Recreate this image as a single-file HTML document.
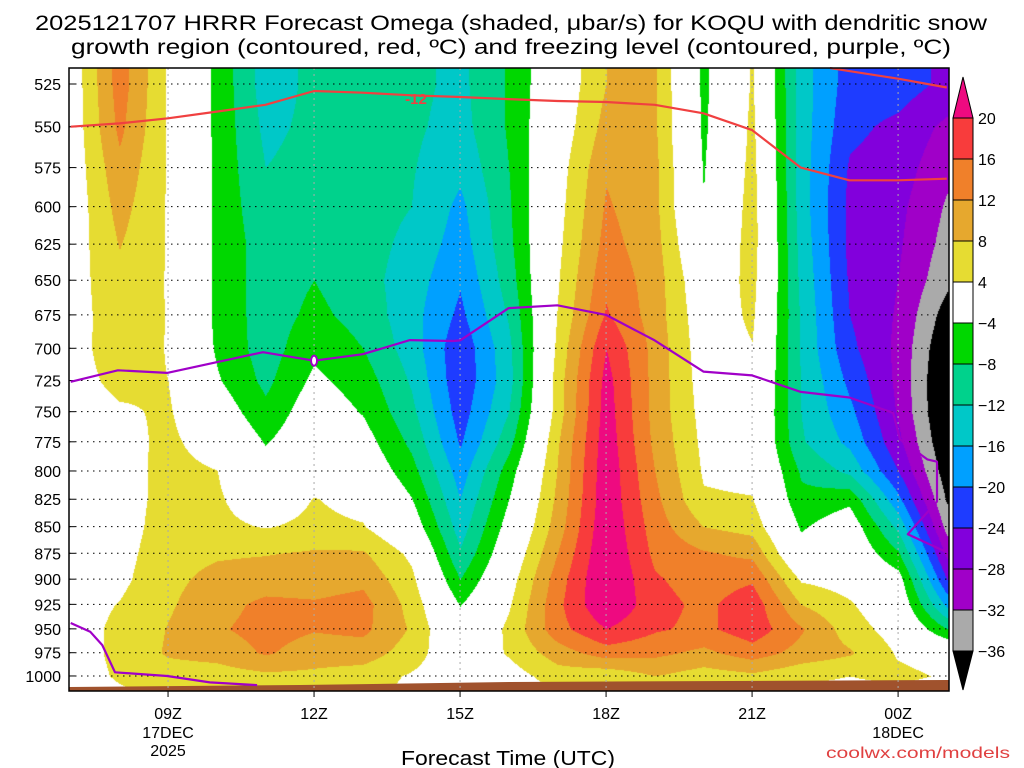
<!DOCTYPE html>
<html><head><meta charset="utf-8"><style>
html,body{margin:0;padding:0;background:#fff;}
#wrap{position:relative;width:1024px;height:768px;overflow:hidden;font-family:"Liberation Sans",sans-serif;}
canvas,svg{position:absolute;left:0;top:0;}
</style></head><body>
<div id="wrap">
<canvas id="field" width="1024" height="768"></canvas>
<svg id="ov" width="1024" height="768"></svg>
</div>
<script>
// ---- data ----
const levels = [525,550,575,600,625,650,675,700,725,750,775,800,825,850,875,900,925,950,975,1000,1025];
const hourLabels = ["07Z","08Z","09Z","10Z","11Z","12Z","13Z","14Z","15Z","16Z","17Z","18Z","19Z","20Z","21Z","22Z","23Z","00Z","01Z"];
const omega07 = [1,1,1,1,1.5,2,2,2.5,2.5,2,2,2,2,2,2,2,2,2,2,2,1];
const omega08 = [14,13,11,9.5,8.2,7,6.5,6,5,3.5,2.5,2,2,2,2.5,3,4.2,5,5,4.5,3];
const omega09 = [3.5,3.5,3.6,3.6,3.7,3.7,3.8,3.8,4,4.5,5,5.5,5.5,6,6.5,7,7.5,8.2,8.5,6,4.5];
const omega10 = [-5,-5,-5,-5,-5,-5,-5,-4.6,-3.5,-1,1.5,4.1,4.6,5,7.5,9.2,10.5,11.5,9.5,6,4.5];
const omega11 = [-14,-13,-12,-11,-10,-10,-10,-10,-9,-7,-4.3,-2,1,3.8,7.8,10,13,13.5,12.5,7,4.5];
const omega12 = [-11,-11,-10.5,-10,-9,-8,-7,-5,-3,-1,0,1.5,4.2,5,8.5,10,12.5,12.3,10,7,4.5];
const omega13 = [-10.5,-10.5,-10.5,-10.5,-10.5,-10.5,-9.5,-8,-6,-4.3,-2,0,2.5,4.3,8.5,11,13.5,13,10,6,4.2];
const omega14 = [-11,-11.3,-11.7,-12,-13,-14,-14.5,-14,-12.5,-11,-9,-6.5,-3.8,-1,3,5,6.5,7.5,6,3.5,3];
const omega15 = [-13,-13.5,-15,-17,-18,-19.5,-21,-23,-23,-22,-20.5,-18,-16,-14,-11.5,-8,-4.2,-2,0,1,1];
const omega16 = [-7.5,-7.5,-8,-8.5,-9,-10,-11.5,-13,-13.5,-12,-9.5,-6,-4,-2,0,2,3.5,5,4.5,2,0.5];
const omega17 = [0.5,1,2,2.5,3,3.6,4.2,5,6,6,7.5,8.2,9,10,12,14,15,14.5,10,6,3];
const omega18 = [8,9.5,11.5,12.5,13.5,15,16.5,20,21.5,22,22.5,23,23,23.5,24,24.5,24,20,14,5,2.5];
const omega19 = [8.5,8.5,9,9,9.5,10,10,10.5,10.5,10.5,11,12,13,14,15,16.5,17.5,16.5,13,8,2.5];
const omega20 = [-5,-4.8,-4.3,-3.8,-2,0,1,1.5,2,2.5,3,3.5,4.5,8,12.5,14,15,15,11,6,2.5];
const omega21 = [4.5,5,5.5,6,6,5.5,4.8,3.8,3,2.5,2.5,2.8,4.2,6.5,11,15.5,18.5,18.5,14,7,2.5];
const omega22 = [-14,-14,-14,-14,-13.5,-13,-12.5,-12.5,-12,-12,-11.5,-8.5,-7,-4.5,-2,3.5,8,12.5,10.5,5,2];
const omega23 = [-22,-23,-24.5,-25,-25,-24.5,-24,-23,-21,-19,-17,-13,-5,-1,0.5,2,4.5,6,8.5,4,2];
const omega00 = [-22,-25,-26,-27,-27.5,-28,-28.5,-29,-29,-28.5,-27,-24,-19,-13,-7.5,-2,0,2,3.5,5,2];
const omega01 = [-25,-29,-31,-32.5,-33.5,-35,-38,-40,-41,-41,-40,-38.5,-36.5,-33.5,-29,-24,-17,-8,2,3.5,1];
const omegaColumns = [omega07,omega08,omega09,omega10,omega11,omega12,omega13,omega14,omega15,omega16,omega17,omega18,omega19,omega20,omega21,omega22,omega23,omega00,omega01];

const cbLevels = [20,16,12,8,4,-4,-8,-12,-16,-20,-24,-28,-32,-36];
const cbColors = ["#ee0a80","#f83c3c","#f0802a","#e6a82e","#e6dc32","#ffffff","#00d700","#00d28c","#00c8c8","#00a0ff","#1e3cff","#8200dc","#a000c8","#aaaaaa","#000000"];

// dendritic (-12C) line: hour offset, pressure
const dgzHours = [0,1,2,3,4,5,6,7,8,9,10,11,12,13,14,15,16,17,18];
const dgzPres  = [550,548,545,541,537,529,530,531.5,532.5,533.7,534.8,535.4,537,542,552,575,583,583,582];
const dgz2Hours = [15.6,17,18];
const dgz2Pres = [516,522,527];
// freezing level (0C)
const frzHours = [0,0.97,1.98,3.95,5,6,6.97,7.86,8,9,10,11,12,13,14,15,16,16.9,17.04,17.6,17.8,17.8,17.2,18];
const frzPres  = [726,717,719,703,709.5,704.5,693.8,694.5,694,670,668,675,694,718,721,734,738.5,751,773,790,792,827,857,874];
const frz2Hours = [0,0.4,0.65,0.91,1.98,2.86,3.83];
const frz2Pres  = [944,953,967,996,1000,1007,1010];
const yTickLabels = ["525","550","575","600","625","650","675","700","725","750","775","800","825","850","875","900","925","950","975","1000"];
const xTickHours = [2,5,8,11,14,17];
const xTickLabels = ["09Z","12Z","15Z","18Z","21Z","00Z"];
const xDateLabels = ["17DEC","","","","","18DEC"];

// ---- axes ----
const L=69,R=949,T=68,B=691;
function xOf(h){return 70.7+h*48.67;}
function yOf(p){return 84+918.7*(Math.log(p)-Math.log(525));}
function colorOf(v){
  if(v>=20)return cbColors[0];
  for(let i=1;i<cbLevels.length;i++){ if(v>=cbLevels[i]) return cbColors[i]; }
  return cbColors[cbColors.length-1];
}
function hexRGB(h){return [parseInt(h.substr(1,2),16),parseInt(h.substr(3,2),16),parseInt(h.substr(5,2),16)];}

// ---- field ----
const cv=document.getElementById('field');const ctx=cv.getContext('2d');
const img=ctx.createImageData(R-L,B-T);
const rowY=levels.map(yOf);
const rgbCache={};
for(let py=T;py<B;py++){
  let r0=0,fr=0;
  if(py<=rowY[0]){r0=0;fr=0;}else if(py>=rowY[rowY.length-1]){r0=rowY.length-2;fr=1;}
  else{for(let i=0;i<rowY.length-1;i++){if(py>=rowY[i]&&py<rowY[i+1]){r0=i;fr=(py-rowY[i])/(rowY[i+1]-rowY[i]);break;}}}
  for(let px=L;px<R;px++){
    let t=(px-70.7)/48.67; if(t<0)t=0; if(t>18)t=18;
    let c0=Math.min(Math.floor(t),17); let fc=t-c0;
    const a=omegaColumns[c0],b=omegaColumns[c0+1];
    const v=(a[r0]*(1-fr)+a[r0+1]*fr)*(1-fc)+(b[r0]*(1-fr)+b[r0+1]*fr)*fc;
    const col=colorOf(v); const rgb=rgbCache[col]||(rgbCache[col]=hexRGB(col));
    const k=((py-T)*(R-L)+(px-L))*4;
    img.data[k]=rgb[0];img.data[k+1]=rgb[1];img.data[k+2]=rgb[2];img.data[k+3]=255;
  }
}
ctx.putImageData(img,L,T);

// ---- overlay ----
const NS="http://www.w3.org/2000/svg";const svg=document.getElementById('ov');
function mk(tag,attrs,parent){const e=document.createElementNS(NS,tag);for(const k in attrs)e.setAttribute(k,attrs[k]);(parent||svg).appendChild(e);return e;}

// terrain
const ter=mk('polygon',{points:`${L},687 300,685 510,682 949,680 ${R},${B} ${L},${B}`,fill:'#a0522d'});



// grid lines
yTickLabels.forEach((lab,i)=>{
  const p=levels[i];
  const g=mk('line',{x1:L,x2:R,y1:yOf(p),y2:yOf(p),stroke:'#000','stroke-width':1,'stroke-dasharray':'1.5 4.5'});
  
  
  const tx=mk('text',{x:61,y:yOf(p)+6,'text-anchor':'end','font-size':16,fill:'#000'});
  tx.textContent=lab;
  
  
  const tk=mk('line',{x1:L,x2:L+6,y1:yOf(p),y2:yOf(p),stroke:'#000'});
  
  
});
xTickHours.forEach((h,i)=>{
  const x=xOf(h);
  const g=mk('line',{x1:x,x2:x,y1:T,y2:B,stroke:'#aaa','stroke-width':1,'stroke-dasharray':'2 4'});
  
  
  const tk=mk('line',{x1:x,x2:x,y1:B,y2:B+6,stroke:'#000'});
  
  
  const t1=mk('text',{x:x,y:719,'text-anchor':'middle','font-size':16});
  t1.textContent=xTickLabels[i];
  
  
  if(xDateLabels[i]){
    const t2=mk('text',{x:x,y:738,'text-anchor':'middle','font-size':16});
    t2.textContent=xDateLabels[i];
    
    
  }
});
const yr=mk('text',{x:xOf(2),y:756,'text-anchor':'middle','font-size':16});yr.textContent='2025';



// contour lines
function poly(hs,ps,color,name){
  const pts=hs.map((h,i)=>xOf(h).toFixed(1)+','+yOf(ps[i]).toFixed(1)).join(' ');
  const e=mk('polyline',{points:pts,fill:'none',stroke:color,'stroke-width':2.2,'stroke-linejoin':'round'});
  
  
}
poly(dgzHours,dgzPres,'#f04040','dendritic-line-minus12');
poly(dgz2Hours,dgz2Pres,'#f04040','dendritic-line-upper');
poly(frzHours,frzPres,'#a000c8','freezing-level-line');
poly(frz2Hours,frz2Pres,'#a000c8','freezing-level-line-low');
const l12=mk('text',{x:416,y:104,'text-anchor':'middle','font-size':15,'font-weight':'bold',fill:'#f04040'});l12.textContent='-12';


const z0=mk('ellipse',{cx:xOf(5),cy:yOf(709.5),rx:3,ry:5,fill:'#fff',stroke:'#a000c8','stroke-width':2});



// frame
const fr=mk('rect',{x:L,y:T,width:R-L,height:B-T,fill:'none',stroke:'#000','stroke-width':1.5});



// colorbar
const cbX=953,cbW=20,cbTop=118,cbStep=41;
const tri1=mk('polygon',{points:`${cbX},${cbTop} ${cbX+cbW},${cbTop} ${cbX+cbW/2},77`,fill:cbColors[0],stroke:'#000'});


for(let i=1;i<cbLevels.length;i++){
  const r=mk('rect',{x:cbX,y:cbTop+(i-1)*cbStep,width:cbW,height:cbStep,fill:cbColors[i],stroke:'#000'});
  
  
}
const bot=cbTop+(cbLevels.length-1)*cbStep;
const tri2=mk('polygon',{points:`${cbX},${bot} ${cbX+cbW},${bot} ${cbX+cbW/2},690`,fill:'#000',stroke:'#000'});


cbLevels.forEach((v,i)=>{
  const t=mk('text',{x:978,y:cbTop+i*cbStep+6,'font-size':16});
  t.textContent=(v<0?'\u2212'+(-v):String(v));
  
  
});

// titles
const ti1=mk('text',{x:511,y:30,'text-anchor':'middle','font-size':21,textLength:952,lengthAdjust:'spacingAndGlyphs'});
ti1.textContent='2025121707 HRRR Forecast Omega (shaded, \u03bcbar/s) for KOQU with dendritic snow';


const ti2=mk('text',{x:511,y:54,'text-anchor':'middle','font-size':21,textLength:880,lengthAdjust:'spacingAndGlyphs'});
ti2.textContent='growth region (contoured, red, \u00baC) and freezing level (contoured, purple, \u00baC)';


const xt=mk('text',{x:508,y:765,'text-anchor':'middle','font-size':20,textLength:214,lengthAdjust:'spacingAndGlyphs'});
xt.textContent='Forecast Time (UTC)';


const cw=mk('text',{x:1010,y:758,'text-anchor':'end','font-size':16,fill:'#e04040',textLength:184,lengthAdjust:'spacingAndGlyphs'});
cw.textContent='coolwx.com/models';


</script>
</body></html>
